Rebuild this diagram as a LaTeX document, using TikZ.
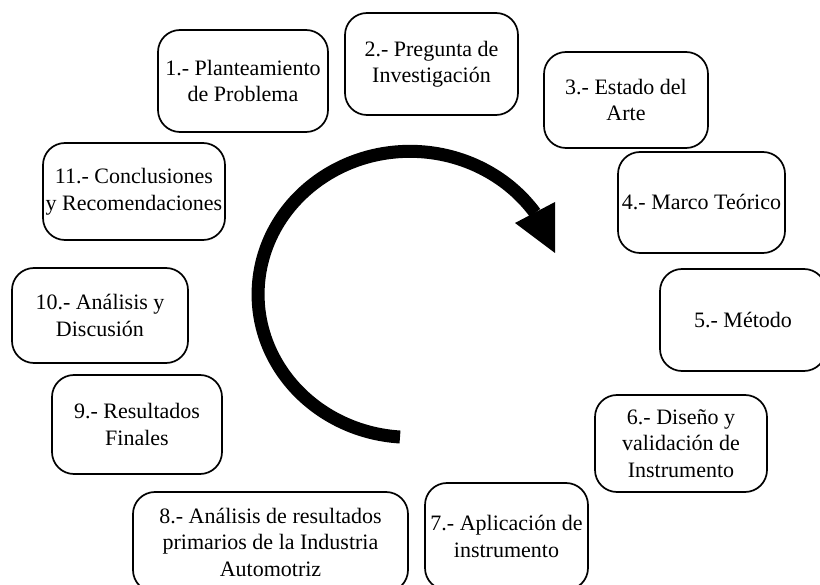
\documentclass[tikz,border=0pt]{standalone}
\usepackage{fontspec}
\setmainfont{Liberation Serif}
\begin{document}
\begin{tikzpicture}[x=1pt,y=-1pt,
  stepbox/.style={draw=black, line width=1.7pt, rounded corners=22pt, align=center,
    inner sep=0pt, text=black, font=\fontsize{22}{26.5}\selectfont},
  cyclearrow/.style={line width=13pt, draw=black},
  cyclehead/.style={fill=black}
]
\useasboundingbox (0,0) rectangle (820,585);
\fill[white] (0,0) rectangle (820,585);

\node[stepbox, minimum width=170pt, minimum height=102pt] (b1) at (243,81) {1.- Planteamiento\\de Problema};
\node[stepbox, minimum width=173pt, minimum height=102pt] (b2) at (431.5,64) {2.- Pregunta de\\Investigación};
\node[stepbox, minimum width=164pt, minimum height=96pt] (b3) at (626,100) {3.- Estado del\\Arte};
\node[stepbox, minimum width=167pt, minimum height=101pt] (b4) at (701.5,202.5) {4.- Marco Teórico};
\node[stepbox, minimum width=166pt, minimum height=102pt] (b5) at (743,320) {5.- Método};
\node[stepbox, minimum width=172pt, minimum height=97pt] (b6) at (681,443.5) {6.- Diseño y\\validación de\\Instrumento};
\node[stepbox, minimum width=163pt, minimum height=107pt] (b7) at (506.5,536.5) {7.- Aplicación de\\instrumento};
\node[stepbox, minimum width=275pt, minimum height=100pt] (b8) at (270.5,542) {8.- Análisis de resultados\\primarios de la Industria\\Automotriz};
\node[stepbox, minimum width=170pt, minimum height=99pt] (b9) at (137,424.5) {9.- Resultados\\Finales};
\node[stepbox, minimum width=176pt, minimum height=95pt] (b10) at (100,315.5) {10.- Análisis y\\Discusión};
\node[stepbox, minimum width=182pt, minimum height=97pt] (b11) at (134,191.5) {11.- Conclusiones\\y Recomendaciones};

\coordinate (arcstart) at (400,437);
\draw[cyclearrow] (arcstart) arc[start angle=93.8, end angle=325.3, x radius=152, y radius=143] coordinate (arcend);
\fill[cyclehead] (515,223) -- (555,202) -- (555,253) -- cycle;
\end{tikzpicture}
\end{document}
